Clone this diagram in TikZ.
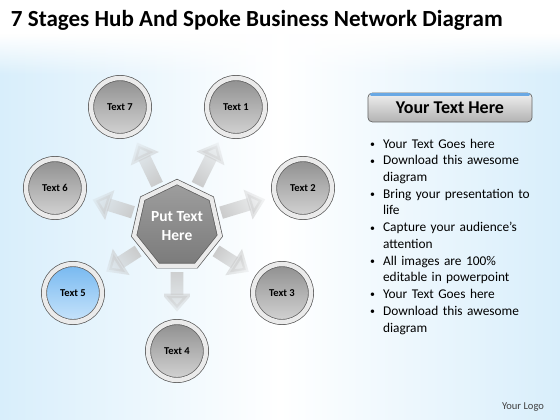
\documentclass[tikz,border=0pt]{standalone}
\usepackage{fontspec}
\setmainfont{Carlito}
\usepackage{enumitem}
\usetikzlibrary{shapes.geometric,arrows.meta,fadings}

\definecolor{bgblue}{RGB}{216,238,251}
\definecolor{balltop}{RGB}{118,184,240}
\definecolor{ballbot}{RGB}{200,228,251}
\definecolor{btnblue}{RGB}{105,168,228}

\tikzset{
  stage/.style={circle, minimum size=1.45cm, inner sep=0pt, draw=black!65, line width=0.5pt,
    double=black!8, double distance=3.2pt, top color=black!44, bottom color=black!17,
    font=\bfseries\fontsize{7.5}{9}\selectfont},
  hub/.style={regular polygon, regular polygon sides=7, minimum size=2.2cm, inner sep=0pt,
    draw=black!65, line width=0.5pt, double=black!8, double distance=3pt,
    top color=black!38, bottom color=black!52, text=white, align=center,
    font=\bfseries\fontsize{11}{13.5}\selectfont},
  spoke/.style={draw=black!22, line width=9pt, -{Triangle[length=0.45cm,width=0.75cm]},
    shorten <=0.15cm, shorten >=0.25cm, path fading=east},
  btn/.style={rounded corners=3pt, draw=black!60, line width=0.5pt, minimum width=4.1cm,
    minimum height=0.72cm, top color=black!6, bottom color=black!30,
    font=\bfseries\fontsize{12.8}{15}\selectfont}
}

\begin{document}
\begin{tikzpicture}[x=0.025cm, y=-0.025cm]
  \useasboundingbox (0,0) rectangle (560,420);
  % background
  \shade[left color=bgblue, right color=bgblue, middle color=white] (0,0) rectangle (560,420);
  \fill[white] (0,0) rectangle (560,34);
  \fill[white, path fading=south] (0,34) rectangle (560,75);

  \node[anchor=base west, font=\bfseries\fontsize{16.4}{19}\selectfont] (title) at (6,27)
    {7 Stages Hub And Spoke Business Network Diagram};

  % hub and stages
  \node[hub] (hub) at (177,226) {Put Text\\Here};
  \node[stage] (t1) at (236,107) {Text 1};
  \node[stage] (t2) at (303,188) {Text 2};
  \node[stage] (t3) at (282,293) {Text 3};
  \node[stage] (t4) at (177,351) {Text 4};
  \node[stage, top color=balltop, bottom color=ballbot] (t5) at (73,293) {Text 5};
  \node[stage] (t6) at (55,188) {Text 6};
  \node[stage] (t7) at (120,107) {Text 7};

  \foreach \n/\a in {t1/64, t2/17, t3/-32, t4/-90, t5/-148, t6/162, t7/116}
    \draw[spoke, fading angle=\a] (hub) -- (\n);

  % text panel
  \node[btn] (head) at (450,107.5) {Your Text Here};
  \draw[btnblue, line width=1.8pt, line cap=round]
    ([xshift=2.5pt,yshift=-1.2pt]head.north west) -- ([xshift=-2.5pt,yshift=-1.2pt]head.north east);
  \node[anchor=north west, inner sep=0pt, text width=4.3cm,
    font=\fontsize{9.5}{11.9}\selectfont] (list) at (368,131) {%
    \begin{itemize}[leftmargin=0.37cm, labelsep=0.2cm, topsep=0pt, itemsep=0pt,
      parsep=0pt, partopsep=0pt, label=\raisebox{0.1ex}{\scriptsize\textbullet}]
      \item Your Text Goes here
      \item Download this awesome\newline diagram
      \item Bring your presentation to\newline life
      \item Capture your audience’s\newline attention
      \item All images are 100\%\newline editable in powerpoint
      \item Your Text Goes here
      \item Download this awesome\newline diagram
    \end{itemize}};

  \node[font=\fontsize{7.5}{9}\selectfont, text=black!75] (logo) at (523,407) {Your Logo};
\end{tikzpicture}
\end{document}
